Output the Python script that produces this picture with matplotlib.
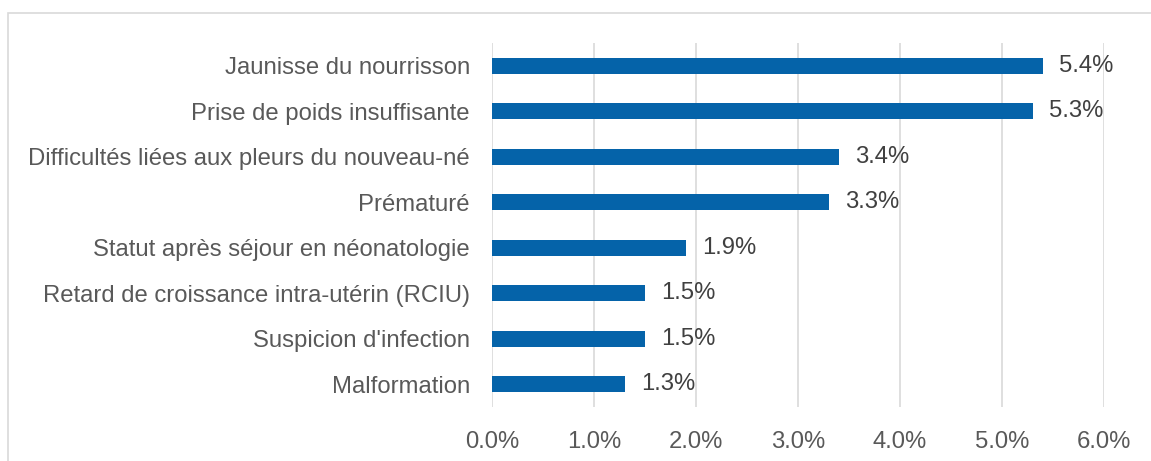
import matplotlib.pyplot as plt
from matplotlib.patches import Rectangle
from matplotlib.ticker import FuncFormatter

# données
categories = ["Jaunisse du nourrisson", "Prise de poids insuffisante",
              "Difficultés liées aux pleurs du nouveau-né", "Prématuré",
              "Statut après séjour en néonatologie",
              "Retard de croissance intra-utérin (RCIU)",
              "Suspicion d'infection", "Malformation"]
valeurs = [5.4, 5.3, 3.4, 3.3, 1.9, 1.5, 1.5, 1.3]
ticks = [0, 1, 2, 3, 4, 5, 6]

plt.rcParams['font.family'] = ['Liberation Sans', 'DejaVu Sans']
gris = '#595959'
gris_fonce = '#404040'
taille = 17.2

fig = plt.figure(figsize=(11.51, 4.61), dpi=100)
ax = fig.add_axes([492/1151, 1-407/461, (1104-492)/1151, (407-43)/461])

# cadre gris autour du graphique
fig.patches.append(Rectangle((8/1151, -0.1), 1.2, 1.1-13/461, transform=fig.transFigure,
                             fill=False, edgecolor='#d9d9d9', linewidth=1.2))

y = list(range(len(categories)))
ax.barh(y, valeurs, height=0.35, color='#0563a9', zorder=3)
for yi, v in zip(y, valeurs):
    ax.text(v + 0.16, yi, "{:.1f}%".format(v), va='center', ha='left', fontsize=taille, color=gris_fonce)

ax.set_ylim(len(categories) - 0.5, -0.5)
ax.set_xlim(0, 6)
ax.set_yticks(y)
ax.set_yticklabels(categories, fontsize=taille, color=gris)
ax.set_xticks(ticks)
ax.xaxis.set_major_formatter(FuncFormatter(lambda x, p: "{:.1f}%".format(x)))
ax.tick_params(axis='x', labelsize=taille, labelcolor=gris, length=0, pad=17)
ax.tick_params(axis='y', length=0, pad=16)
ax.grid(axis='x', color='#d9d9d9', linewidth=1.2, zorder=0)
for s in ax.spines.values():
    s.set_visible(False)

fig.savefig('out.png', dpi=100)
